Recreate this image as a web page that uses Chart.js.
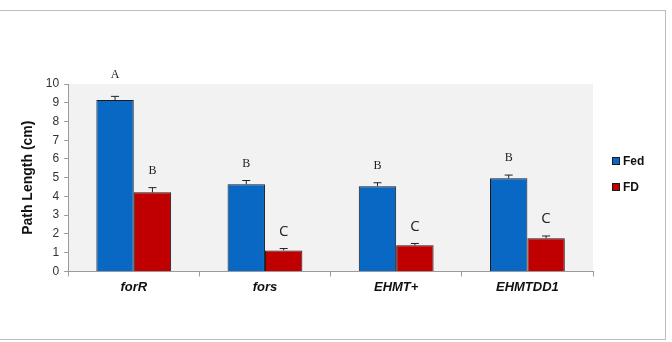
<!DOCTYPE html>
<html>
<head>
<meta charset="utf-8">
<script src="https://cdn.jsdelivr.net/npm/chart.js@4"></script>
<style>
  body { margin: 0; background: #fff; }
  #wrap { position: relative; width: 672px; height: 342px; }
  #frame { position: absolute; left: -2px; top: 10px; width: 666px; height: 328px; border: 1px solid #bdbdbd; }
  canvas { position: absolute; left: 0; top: 0; }
</style>
</head>
<body>
<div id="wrap">
  <div id="frame"></div>
  <canvas id="chart" width="672" height="342"></canvas>
</div>
<script>
// data
const categories = ['forR', 'fors', 'EHMT+', 'EHMTDD1'];
const fedValues = [9.14, 4.65, 4.55, 4.97];
const fdValues = [4.22, 1.12, 1.39, 1.77];
const fedErrors = [0.2, 0.2, 0.18, 0.17];
const fdErrors = [0.25, 0.1, 0.1, 0.12];
const fedLetters = ['A', 'B', 'B', 'B'];
const fdLetters = ['B', 'C', 'C', 'C'];
const yTicks = [0, 1, 2, 3, 4, 5, 6, 7, 8, 9, 10];

const errors = [fedErrors, fdErrors];
const letters = [fedLetters, fdLetters];

// light gray plot area behind the bars
const plotBackground = {
  id: 'plotBackground',
  beforeDraw(chart) {
    const { ctx, chartArea: a } = chart;
    ctx.save();
    ctx.fillStyle = '#f2f2f2';
    ctx.fillRect(a.left, a.top, a.right - a.left, a.bottom - a.top);
    ctx.restore();
  }
};

// error bar caps and significance letters
const errorBars = {
  id: 'errorBars',
  afterDatasetsDraw(chart) {
    const ctx = chart.ctx;
    const y = chart.scales.y;
    chart.data.datasets.forEach((ds, i) => {
      const meta = chart.getDatasetMeta(i);
      meta.data.forEach((bar, j) => {
        const top = y.getPixelForValue(ds.data[j] + errors[i][j]);
        ctx.save();
        ctx.strokeStyle = '#222';
        ctx.lineWidth = 1;
        ctx.beginPath();
        ctx.moveTo(bar.x, bar.y);
        ctx.lineTo(bar.x, top);
        ctx.moveTo(bar.x - 4, top);
        ctx.lineTo(bar.x + 4, top);
        ctx.stroke();
        const l = letters[i][j];
        ctx.fillStyle = '#222';
        ctx.textAlign = 'center';
        ctx.textBaseline = 'middle';
        ctx.font = l === 'C' ? '15px "Open Sans", sans-serif' : '12px "Liberation Serif", serif';
        ctx.fillText(l, bar.x, top - (l === 'A' ? 22 : 17));
        ctx.restore();
      });
    });
  }
};

// legend on the right, drawn from the dataset labels and colours
const sideLegend = {
  id: 'sideLegend',
  afterDraw(chart) {
    const ctx = chart.ctx;
    ctx.save();
    ctx.font = 'bold 12px "Liberation Sans", Arial';
    ctx.textBaseline = 'middle';
    chart.data.datasets.forEach((ds, i) => {
      const cy = 161 + i * 26;
      ctx.fillStyle = ds.backgroundColor;
      ctx.fillRect(612, cy - 4, 8, 8);
      ctx.strokeStyle = '#1b1b1b';
      ctx.lineWidth = 1;
      ctx.strokeRect(612.5, cy - 3.5, 7, 7);
      ctx.fillStyle = '#111';
      ctx.fillText(ds.label, 623, cy + 1);
    });
    ctx.restore();
  }
};

const chart = new Chart(document.getElementById('chart'), {
  type: 'bar',
  data: {
    labels: categories,
    datasets: [
      { label: 'Fed', data: fedValues, backgroundColor: '#0868c4', borderColor: '#1b1b1b', borderWidth: 1 },
      { label: 'FD', data: fdValues, backgroundColor: '#c00000', borderColor: '#1b1b1b', borderWidth: 1 }
    ]
  },
  options: {
    responsive: false,
    animation: false,
    layout: { padding: { top: 84, right: 79, bottom: 44, left: 20 } },
    categoryPercentage: 0.57,
    barPercentage: 1,
    scales: {
      x: {
        grid: { offset: true, drawOnChartArea: false, tickLength: 5, color: '#9a9a9a' },
        border: { color: '#9a9a9a' },
        ticks: { color: '#111', font: { family: 'Liberation Sans, Arial', size: 13, weight: 'bold', style: 'italic' }, padding: 3 }
      },
      y: {
        min: 0,
        max: 10,
        afterBuildTicks(s) { s.ticks = yTicks.map(v => ({ value: v })); },
        grid: { drawOnChartArea: false, tickLength: 4, color: '#9a9a9a' },
        border: { color: '#9a9a9a' },
        ticks: { color: '#333', font: { family: 'Liberation Sans, Arial', size: 12 }, padding: 5 },
        title: { display: true, text: 'Path Length (cm)', color: '#111', font: { family: 'Liberation Sans, Arial', size: 14, weight: 'bold' }, padding: { top: 0, bottom: 4 } }
      }
    },
    plugins: {
      legend: { display: false },
      tooltip: { enabled: false }
    }
  },
  plugins: [plotBackground, errorBars, sideLegend]
});
</script>
</body>
</html>
